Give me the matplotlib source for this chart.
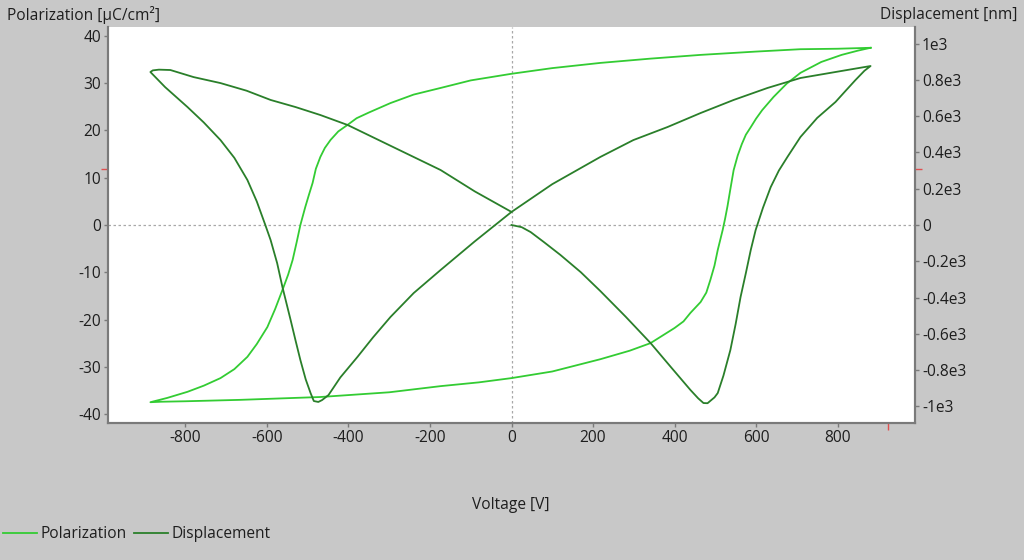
import numpy as np
import matplotlib
matplotlib.use("Agg")
import matplotlib.pyplot as plt
from matplotlib.ticker import FuncFormatter

# Polarization loop (V in volts, P in uC/cm2)
pol_v = [881, 800, 709, 600, 464, 340, 218, 100, 0, -100, -174, -240, -297, -350, -380, -402, -425, -444,
         -458, -469, -480, -488, -497, -506, -518, -527, -537, -548, -560, -580, -599, -625, -648, -680, -714, -755,
         -795, -845, -886, -860, -800, -665, -469, -300, -174, -80, 0, 100, 218, 290, 341, 400, 422,
         439, 464, 478, 488, 498, 506, 512, 518, 524, 530, 537, 545, 555, 565, 575, 587, 600, 615, 643, 675, 709,
         760, 810, 850, 881]
pol_p = [37.5, 37.3, 37.2, 36.7, 36.0, 35.2, 34.3, 33.2, 32.0, 30.6, 29.0, 27.6, 25.8, 23.8, 22.6, 21.2, 19.8, 18.0,
         16.3, 14.4, 11.9, 8.9, 6.4, 3.8, 0.0, -3.6, -7.4, -10.5, -13.3, -17.8, -21.6, -25.2, -27.9, -30.5, -32.4, -34.0,
         -35.3, -36.6, -37.5, -37.4, -37.3, -37.0, -36.4, -35.4, -34.1, -33.3, -32.4, -31.0, -28.4, -26.6, -25.0, -21.8,
         -20.4, -18.6, -16.3, -14.3, -11.6, -8.6, -5.3, -3.2, -1.1, 1.3, 4.0, 7.6, 11.6, 14.7, 17.1, 19.1, 20.7, 22.5,
         24.3, 27.1, 29.9, 32.2, 34.5, 36.0, 36.9, 37.5]

# Displacement butterfly (V in volts, D in nm)
disp_v = [0, 25, 47, 80, 120, 170, 218, 280, 341, 390, 439, 458, 471, 481, 490, 498, 506, 520, 537, 550, 562,
          575, 587, 599, 617, 636, 656, 677, 709, 750, 795, 820, 844, 866, 881,
          800, 709, 628, 545, 464, 383, 299, 218, 100, 0, -90, -174, -240, -297, -340, -378, -420, -449, -465,
          -474, -485, -493, -505, -518, -530, -542, -562, -575, -591, -604, -625, -648, -680, -714, -755, -795,
          -850, -886, -880, -865, -837, -780, -714, -650, -591, -530, -469, -402, -300, -174, -90, 0]
disp_d = [0, -12, -39, -95, -165, -260, -364, -505, -650, -780, -909, -955, -981, -982, -965, -950, -926, -830, -689,
          -545, -397, -265, -138, -28, 95, 209, 300, 375, 485, 590, 678, 740, 799, 850, 876,
          845, 810, 755, 689, 617, 540, 468, 375, 225, 72, -90, -248, -375, -507, -620, -727, -840, -937, -965,
          -975, -970, -926, -850, -744, -635, -523, -342, -210, -83, 0, 130, 248, 370, 468, 565, 650,
          760, 843, 852, 856, 854, 815, 782, 740, 689, 650, 606, 551, 440, 303, 185, 72]

y_left_ticks = [-40, -30, -20, -10, 0, 10, 20, 30, 40]
y_right_ticks = [-1000, -800, -600, -400, -200, 0, 200, 400, 600, 800, 1000]
x_ticks = [-800, -600, -400, -200, 0, 200, 400, 600, 800]
cursor_v, cursor_p, cursor_d = 923, 11.85, 308

plt.rcParams['font.family'] = ['Open Sans', 'DejaVu Sans']
plt.rcParams['axes.unicode_minus'] = False

bg = '#c8c8c8'
spine_c = '#7a7a7a'
txt_c = '#1e1e1e'
light = '#33cc33'
dark = '#2a7f2a'
fs = 11.2

fig = plt.figure(figsize=(10.24, 5.6), dpi=100, facecolor=bg)
ax = fig.add_axes([108 / 1024, 137 / 560, 807 / 1024, 396 / 560])
ax2 = ax.twinx()

ax.axhline(0, color='#a8a8a8', lw=0.9, ls=(0, (2, 2)), zorder=1)
ax.axvline(0, color='#a8a8a8', lw=0.9, ls=(0, (2, 2)), zorder=1)

l1, = ax.plot(pol_v, pol_p, color=light, lw=1.3, zorder=3, label='Polarization')
l2, = ax2.plot(disp_v, disp_d, color=dark, lw=1.3, zorder=3, label='Displacement')

ax.set_xlim(-990, 990)
ax.set_ylim(-41.9, 41.9)
ax2.set_ylim(-1091, 1091)

ax.set_xticks(x_ticks)
ax.set_yticks(y_left_ticks)
ax2.set_yticks(y_right_ticks)
ax2.yaxis.set_major_formatter(FuncFormatter(lambda v, p: '0' if v == 0 else f'{v / 1000:g}e3'))

# red cursor marks as minor ticks
ax.set_xticks([cursor_v], minor=True)
ax.set_yticks([cursor_p], minor=True)
ax2.set_yticks([cursor_d], minor=True)
for a in (ax, ax2):
    a.tick_params(which='minor', color='#e05050', length=5, width=1, labelleft=False, labelright=False, labelbottom=False)
    a.tick_params(which='major', color=spine_c, length=3, width=1, labelsize=fs, labelcolor=txt_c, pad=2)

for a in (ax, ax2):
    a.spines['top'].set_visible(False)
    for s in ('left', 'right', 'bottom'):
        a.spines[s].set_color(spine_c)
        a.spines[s].set_linewidth(1.5)
ax.set_facecolor('white')

fig.text(7 / 1024, 1 - 15 / 560, 'Polarization [µC/cm²]', ha='left', va='center', fontsize=fs, color=txt_c)
fig.text(1017 / 1024, 1 - 15 / 560, 'Displacement [nm]', ha='right', va='center', fontsize=fs, color=txt_c)
fig.text(511 / 1024, 1 - 505 / 560, 'Voltage [V]', ha='center', va='center', fontsize=fs, color=txt_c)

fig.legend(handles=[l1, l2], loc='center left', bbox_to_anchor=(0.0, 1 - 534 / 560), ncol=2, frameon=False,
           fontsize=fs, handlelength=2.2, handletextpad=0.2, columnspacing=0.45, borderpad=0.2, borderaxespad=0,
           labelcolor=txt_c)

fig.savefig('out.png', dpi=100, facecolor=bg)
